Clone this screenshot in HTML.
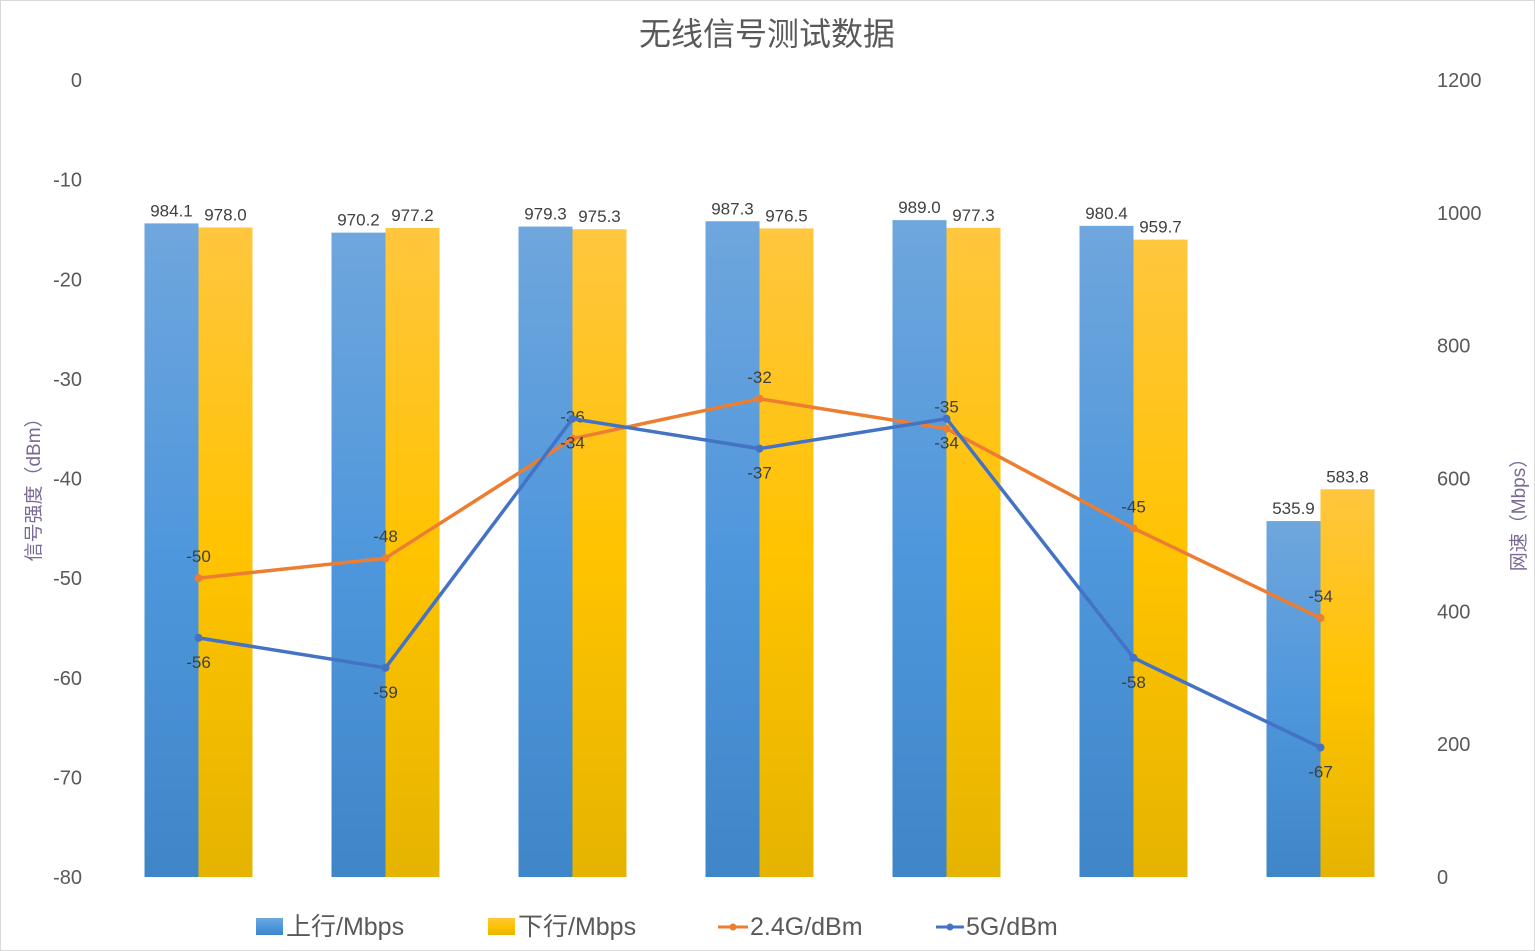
<!DOCTYPE html>
<html><head><meta charset="utf-8">
<style>
html,body{margin:0;padding:0;background:#fff;}
svg{display:block;font-family:"Liberation Sans","Noto Sans CJK SC",sans-serif;}
</style></head>
<body>
<svg id="chart" width="1535" height="951" viewBox="0 0 1535 951" xmlns="http://www.w3.org/2000/svg">
<defs>
<linearGradient id="gBlue" x1="0" y1="0" x2="0" y2="1"><stop offset="0" stop-color="#6fa6dd"/><stop offset="0.5" stop-color="#4f97dc"/><stop offset="1" stop-color="#3f86c8"/></linearGradient>
<linearGradient id="gYel" x1="0" y1="0" x2="0" y2="1"><stop offset="0" stop-color="#ffc63f"/><stop offset="0.5" stop-color="#ffc300"/><stop offset="1" stop-color="#e5b400"/></linearGradient>
</defs>
<rect x="0.5" y="0.5" width="1534" height="950" fill="#fff" stroke="#d9d9d9"/>
<text x="767" y="45" text-anchor="middle" font-size="32" fill="#595959">无线信号测试数据</text>
<g id="axes"></g>
<g id="bars"></g>
<g id="lines"></g>
<text transform="translate(40,485) rotate(-90)" text-anchor="middle" font-size="19" fill="#7a6a94">信号强度（dBm）</text>
<text transform="translate(1525,510) rotate(-90)" text-anchor="middle" font-size="19" fill="#7a6a94">网速（Mbps）</text>
<g>
<rect x="256" y="918" width="27" height="17" fill="url(#gBlue)"/>
<text x="286" y="935" font-size="25" fill="#595959">上行/Mbps</text>
<rect x="488" y="918" width="27" height="17" fill="url(#gYel)"/>
<text x="518" y="935" font-size="25" fill="#595959">下行/Mbps</text>
<line x1="718" y1="927" x2="748" y2="927" stroke="#ed7d31" stroke-width="3"/>
<circle cx="733" cy="927" r="3.5" fill="#ed7d31"/>
<text x="750" y="935" font-size="25" fill="#595959">2.4G/dBm</text>
<line x1="936" y1="927" x2="964" y2="927" stroke="#4472c4" stroke-width="3"/>
<circle cx="950" cy="927" r="3.5" fill="#4472c4"/>
<text x="966" y="935" font-size="25" fill="#595959">5G/dBm</text>
</g>
</svg>
<script>
const upload = [984.1, 970.2, 979.3, 987.3, 989.0, 980.4, 535.9];
const download = [978.0, 977.2, 975.3, 976.5, 977.3, 959.7, 583.8];
const sig24 = [-50, -48, -36, -32, -35, -45, -54];
const sig5 = [-56, -59, -34, -37, -34, -58, -67];
const leftTicks = [0, -10, -20, -30, -40, -50, -60, -70, -80];
const rightTicks = [0, 200, 400, 600, 800, 1000, 1200];

const NS = "http://www.w3.org/2000/svg";
const pTop = 80, pBottom = 877, x0 = 105, groupW = 187;
const yL = v => pTop + (0 - v) / 80 * (pBottom - pTop);
const yR = v => pBottom - v / 1200 * (pBottom - pTop);
const xC = i => x0 + groupW * (i + 0.5);
function mk(tag, attrs, parent, txt) {
  const e = document.createElementNS(NS, tag);
  for (const k in attrs) e.setAttribute(k, attrs[k]);
  if (txt !== undefined) e.textContent = txt;
  parent.appendChild(e); return e;
}
const axesG = document.getElementById('axes');
leftTicks.forEach(t => {
  const e = mk('text', {x: 82, y: yL(t) + 7, 'text-anchor': 'end', 'font-size': 20, fill: '#595959'}, axesG, String(t));
  
  
});
rightTicks.forEach(t => {
  const e = mk('text', {x: 1437, y: yR(t) + 7, 'font-size': 20, fill: '#595959'}, axesG, String(t));
  
  
});
const barsG = document.getElementById('bars');
const bw = 54;
upload.forEach((v, i) => {
  const cx = xC(i);
  const b = mk('rect', {x: cx - bw, y: yR(v), width: bw, height: pBottom - yR(v), fill: 'url(#gBlue)'}, barsG);
  
  
  const l = mk('text', {x: cx - bw / 2, y: yR(v) - 7, 'text-anchor': 'middle', 'font-size': 17, fill: '#404040'}, barsG, v.toFixed(1));
  
  
});
download.forEach((v, i) => {
  const cx = xC(i);
  const b = mk('rect', {x: cx, y: yR(v), width: bw, height: pBottom - yR(v), fill: 'url(#gYel)'}, barsG);
  
  
  const l = mk('text', {x: cx + bw / 2, y: yR(v) - 7, 'text-anchor': 'middle', 'font-size': 17, fill: '#404040'}, barsG, v.toFixed(1));
  
  
});
const linesG = document.getElementById('lines');
function drawLine(data, color, name, above) {
  const pts = data.map((v, i) => xC(i) + ',' + yL(v)).join(' ');
  const pl = mk('polyline', {points: pts, fill: 'none', stroke: color, 'stroke-width': 3.5, 'stroke-linejoin': 'round'}, linesG);
  
  
  data.forEach((v, i) => {
    const c = mk('circle', {cx: xC(i), cy: yL(v), r: 4, fill: color}, linesG);
    
    
    const t = mk('text', {x: xC(i), y: above ? yL(v) - 16 : yL(v) + 30, 'text-anchor': 'middle', 'font-size': 17, fill: '#404040'}, linesG, String(v));
    
    
  });
}
drawLine(sig24, '#ed7d31', 'signal-24g', true);
drawLine(sig5, '#4472c4', 'signal-5g', false);
</script>
</body></html>
